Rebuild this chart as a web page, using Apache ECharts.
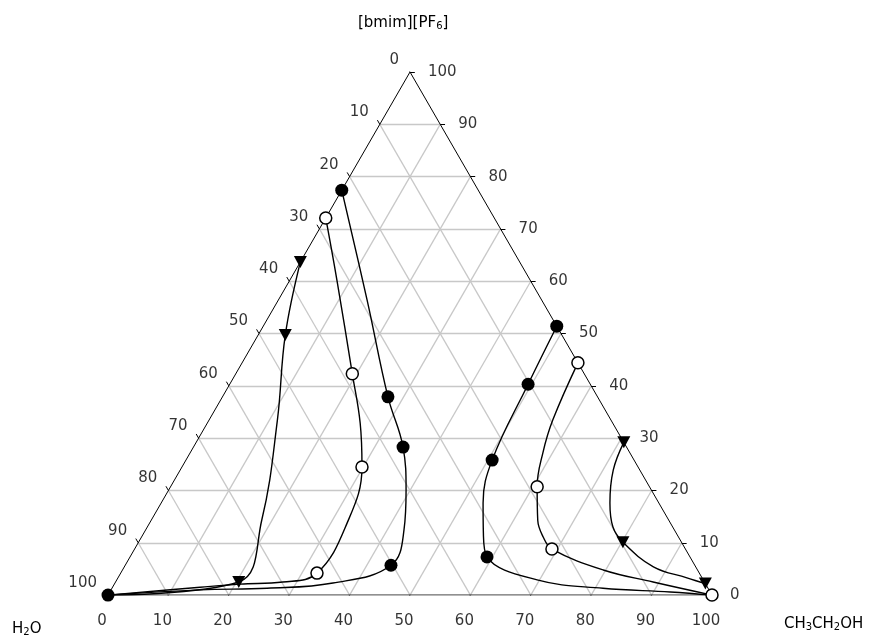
<!DOCTYPE html>
<html>
<head>
<meta charset="utf-8">
<script src="https://cdn.jsdelivr.net/npm/echarts@6/dist/echarts.min.js"></script>
<style>
html,body{margin:0;padding:0;background:#fff}
#main{width:871px;height:639px}
</style>
</head>
<body>
<div id="main"></div>
<script>
// ternary points are [ethanol %, bmim %]; water is the rest
var ticks = [0, 10, 20, 30, 40, 50, 60, 70, 80, 90, 100];

// curves
var curveFilledL = [[0,77.4],[14.7,56.4],[27.4,37.9],[34.7,28.3],[39.3,20.1],[42.8,12.4],[44.0,5.7],[36.1,2.3],[25.7,1.3],[14.8,1.0],[0,0]];
var curveOpenL = [[0,72.1],[7.8,60.2],[19.3,42.3],[25.3,32.9],[29.8,24.5],[32.7,13.8],[32.5,4.2],[27.7,2.5],[20.8,2.1],[14.5,1.5],[0,0]];
var curveTriL = [[0,63.7],[4.5,49.7],[11.3,33.5],[18.3,14.3],[20.4,2.5],[0,0]];
var curveFilledR = [[48.6,51.4],[49.4,40.3],[50.7,25.8],[53.3,17.6],[56.2,11.9],[59.1,7.3],[69.6,2.9],[81.3,1.3],[92.8,0.6],[100,0]];
var curveOpenR = [[55.6,44.4],[56.9,33.5],[58.4,27.2],[60.7,20.7],[64.0,14.3],[66.5,11.1],[69.1,8.8],[79.6,4.8],[89.0,2.5],[100,0]];
var curveTriR = [[70.8,29.2],[71.7,23.9],[74.3,17.6],[77.1,13.0],[80.2,10.1],[87.6,5.4],[94.2,3.3],[97.8,2.2]];

// measured points
var dotsFilled = [[0,77.4],[27.4,37.9],[34.7,28.3],[44.0,5.7],[0,0],[48.6,51.4],[49.4,40.3],[50.7,25.8],[59.1,7.3]];
var dotsOpen = [[0,72.1],[19.3,42.3],[29.8,24.5],[32.5,4.2],[55.6,44.4],[60.7,20.7],[69.1,8.8],[100,0]];
var dotsTri = [[0,63.7],[4.5,49.7],[20.4,2.5],[70.8,29.2],[80.2,10.1],[97.8,2.2]];

var H = Math.sqrt(3) / 2;
function xy(p) { return [p[0] + p[1] / 2, p[1] * H]; }
function seg(a, b) { return { coords: [xy(a), xy(b)] }; }

var gridSegs = [], tickSegs = [], bottomLab = [], leftLab = [], rightLab = [];
ticks.forEach(function (k) {
    if (k > 0 && k < 100) {
        gridSegs.push(seg([0, k], [100 - k, k]));   // const bmim
        gridSegs.push(seg([k, 0], [k, 100 - k]));   // const ethanol
        gridSegs.push(seg([100 - k, 0], [0, 100 - k])); // const water
    }
    tickSegs.push(seg([k, 0], [k, -0.8]));
    tickSegs.push(seg([0, 100 - k], [-0.8, 100 - k + 0.8]));
    tickSegs.push(seg([100 - k, k], [100 - k + 0.8, k]));
    bottomLab.push(xy([k, 0]).concat(k));
    leftLab.push(xy([0, 100 - k]).concat(k));
    rightLab.push(xy([100 - k, k]).concat(k));
});

var frame = [[0, 0], [100, 0], [0, 100], [0, 0]].map(xy);
var font = 'DejaVu Sans';
var sub = {
    n: { fontFamily: font, fontSize: 15, lineHeight: 20, verticalAlign: 'bottom', fill: '#000' },
    s: { fontFamily: font, fontSize: 10, lineHeight: 20, verticalAlign: 'bottom', padding: [10, 0, 0, 0], fill: '#000' }
};

function labels(data, align, off) {
    return {
        type: 'scatter', data: data, symbolSize: 1, silent: true, z: 5,
        itemStyle: { color: 'rgba(0,0,0,0)' },
        label: {
            show: true, position: 'inside', align: align, verticalAlign: 'middle',
            offset: off, color: '#000', fontFamily: font, fontSize: 15,
            formatter: function (p) { return String(p.value[2]); }
        }
    };
}
function curve(d) {
    return {
        type: 'line', data: d.map(xy), smooth: 0.4, symbol: 'none', z: 3, silent: true,
        lineStyle: { color: '#000', width: 1.4 }
    };
}

var chart = echarts.init(document.getElementById('main'));
chart.setOption({
    animation: false,
    grid: { left: 108, top: 72, width: 604, height: 604 * H },
    xAxis: { type: 'value', min: 0, max: 100, show: false },
    yAxis: { type: 'value', min: 0, max: 100 * H, show: false },
    graphic: [
        { type: 'text', left: 358, top: 11, style: { text: '{n|[bmim][PF}{s|6}{n|]}', rich: sub } },
        { type: 'text', left: 12, top: 617, style: { text: '{n|H}{s|2}{n|O}', rich: sub } },
        { type: 'text', left: 784, top: 612, style: { text: '{n|CH}{s|3}{n|CH}{s|2}{n|OH}', rich: sub } }
    ],
    series: [
        { type: 'lines', coordinateSystem: 'cartesian2d', data: gridSegs, silent: true, z: 1,
          lineStyle: { color: '#c8c8c8', width: 1.3, opacity: 1 } },
        { type: 'lines', coordinateSystem: 'cartesian2d', data: tickSegs, silent: true, z: 2,
          lineStyle: { color: '#000', width: 1, opacity: 1 } },
        { type: 'line', data: frame, symbol: 'none', silent: true, z: 2,
          lineStyle: { color: '#000', width: 1 } },
        labels(bottomLab, 'center', [-6, 26]),
        labels(leftLab, 'right', [-11, -12]),
        labels(rightLab, 'left', [18, 0]),
        curve(curveFilledL), curve(curveOpenL), curve(curveTriL),
        curve(curveFilledR), curve(curveOpenR), curve(curveTriR),
        { type: 'scatter', data: dotsFilled.map(xy), symbol: 'circle', symbolSize: 13, z: 6, silent: true,
          itemStyle: { color: '#000', opacity: 1 } },
        { type: 'scatter', data: dotsOpen.map(xy), symbol: 'circle', symbolSize: 12, z: 6, silent: true,
          itemStyle: { color: '#fff', borderColor: '#000', borderWidth: 1.5, opacity: 1 } },
        { type: 'scatter', data: dotsTri.map(xy), symbol: 'triangle', symbolSize: [13, 12], symbolRotate: 180, z: 6, silent: true,
          itemStyle: { color: '#000', opacity: 1 } }
    ]
});
</script>
</body>
</html>
